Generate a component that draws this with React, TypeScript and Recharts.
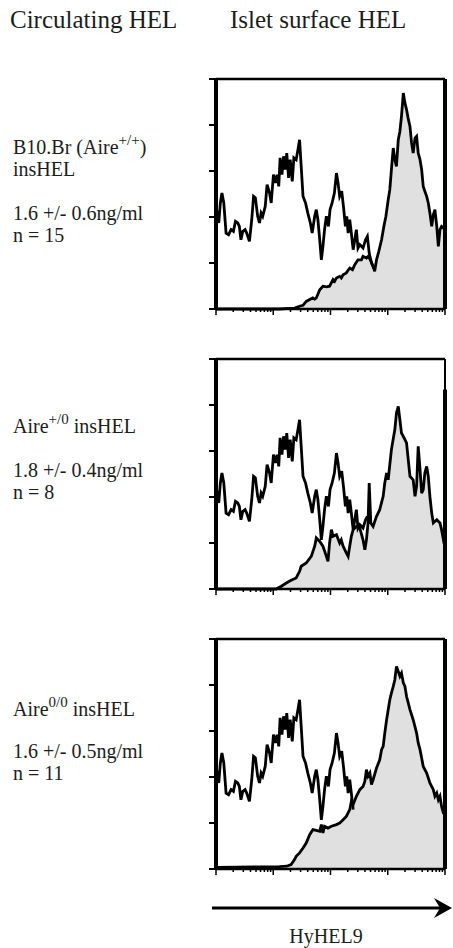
import React from 'react';
import { ComposedChart, Area, Line, XAxis, YAxis, ReferenceLine } from 'recharts';

// Control (open) histogram, x = channel (% of 4-decade log axis), y = % of max
const controlCurve: [number, number][] = [
  [0, 44.6], [1.2, 37.4], [1.9, 46.1], [2.6, 50.4], [3.4, 46.1], [4.4, 33.0], [5.5, 32.3], [6.6, 34.5],
  [7.6, 33.8], [8.5, 38.1], [9.5, 37.4], [10.2, 35.9], [10.9, 30.1], [11.7, 33.8], [12.7, 34.5], [13.4, 33.0],
  [14.6, 29.4], [15.6, 38.8], [16.4, 49.0], [17.2, 48.3], [18.2, 40.3], [19.0, 37.4], [19.7, 41.7], [20.4, 40.3],
  [21.5, 44.6], [22.3, 54.1], [23.4, 50.4], [24.1, 46.1], [25.1, 58.4], [26.0, 54.8], [26.7, 58.4], [27.4, 53.3],
  [28.0, 65.7], [28.8, 58.4], [29.5, 66.4], [30.2, 60.6], [30.9, 67.8], [31.7, 57.0], [32.4, 64.9], [33.3, 55.5],
  [34.0, 65.7], [35.0, 64.9], [35.8, 69.3], [36.5, 73.6], [37.2, 62.0], [38.0, 49.0], [39.1, 46.1], [40.1, 41.7],
  [41.2, 37.4], [42.0, 33.0], [43.1, 40.3], [43.8, 43.2], [44.5, 38.8], [45.3, 30.1], [46.0, 21.4], [46.7, 27.2],
  [47.4, 34.5], [48.2, 40.3], [49.1, 35.9], [49.8, 43.2], [50.7, 46.1], [51.7, 50.4], [52.6, 59.1], [53.3, 54.8],
  [54.0, 49.0], [54.9, 51.2], [55.8, 43.2], [56.5, 35.9], [57.1, 40.3], [57.7, 33.0], [58.4, 38.8], [59.1, 33.0],
  [59.9, 25.8], [60.6, 30.1], [61.3, 34.5], [62.0, 26.5], [62.8, 28.0], [64.2, 26.5], [65.3, 30.1], [66.1, 31.6],
  [66.9, 24.3], [67.9, 20.0], [68.9, 17.8],
];

// Islet surface HEL (filled) histograms
const stainedAireWT: [number, number][] = [
  [0, 0], [16.1, 0], [27.7, 0], [32.1, 0.3], [34.3, 0.4], [36.5, 1.2], [38.0, 1.6], [39.4, 3.3], [40.9, 4.1],
  [42.3, 4.8], [43.1, 4.3], [43.8, 4.8], [45.3, 8.4], [46.7, 9.9], [48.2, 9.6], [49.6, 9.9], [51.1, 12.8],
  [51.8, 12.0], [52.6, 13.5], [54.0, 14.2], [54.7, 13.5], [55.5, 14.9], [56.9, 15.7], [58.4, 17.8], [59.6, 17.1],
  [60.6, 19.3], [62.0, 21.4], [63.5, 21.4], [64.2, 22.9], [65.7, 22.2], [66.4, 22.9], [67.4, 21.4], [68.6, 18.6],
  [69.3, 16.4], [70.1, 21.4], [71.1, 25.1], [72.3, 30.1], [73.3, 35.9], [74.2, 40.3], [75.2, 47.5], [75.9, 51.9],
  [76.6, 60.6], [77.4, 70.0], [78.1, 64.9], [78.8, 62.0], [79.6, 73.6], [80.3, 77.2], [81.0, 83.8], [81.8, 93.9],
  [82.5, 89.6], [83.2, 86.7], [83.9, 83.0], [84.7, 79.4], [85.4, 72.2], [86.1, 67.8], [86.9, 74.3], [87.6, 75.1],
  [88.3, 67.8], [89.1, 64.9], [89.8, 60.6], [90.5, 53.3], [91.2, 51.2], [92.0, 49.0], [92.7, 46.1], [93.4, 41.7],
  [94.2, 35.9], [94.9, 41.0], [95.6, 43.2], [96.4, 35.9], [97.1, 27.2], [97.8, 34.5], [98.5, 35.9], [99.3, 35.2],
  [100, 35.9],
];

const stainedAireHet: [number, number][] = [
  [0, 0], [26.3, 0], [28.5, 1.2], [30.7, 2.6], [32.8, 3.8], [35.0, 4.8], [36.5, 7.7], [37.2, 9.9], [39.4, 11.3],
  [41.6, 14.2], [43.1, 18.6], [43.8, 22.2], [45.3, 20.7], [46.7, 18.6], [48.2, 14.2], [48.9, 12.0], [49.6, 20.0],
  [50.4, 25.8], [51.1, 22.9], [52.6, 23.6], [54.0, 20.0], [54.7, 21.4], [55.5, 18.6], [56.9, 15.7], [57.7, 14.2],
  [58.4, 18.6], [59.1, 22.9], [59.9, 25.8], [61.3, 27.2], [62.8, 26.5], [64.2, 21.4], [65.0, 17.1], [65.7, 21.4],
  [66.4, 28.7], [66.9, 46.1], [67.6, 28.7], [68.6, 27.2], [70.1, 31.6], [71.5, 34.5], [73.0, 40.3], [73.7, 46.1],
  [74.5, 50.4], [75.2, 47.5], [76.6, 60.6], [78.1, 69.3], [78.8, 76.5], [79.6, 79.4], [80.3, 73.6], [81.0, 67.8],
  [81.8, 66.4], [83.2, 63.5], [84.7, 49.0], [86.1, 47.5], [86.9, 40.3], [87.6, 44.6], [88.3, 62.0], [89.1, 51.9],
  [89.8, 41.7], [90.5, 43.2], [91.2, 50.4], [92.0, 53.3], [92.7, 49.0], [93.4, 40.3], [94.2, 33.0], [94.9, 28.7],
  [96.4, 30.1], [97.8, 28.7], [98.5, 25.8], [99.3, 21.4], [100, 22.9],
];

const stainedAireKO: [number, number][] = [
  [0, 0.7], [27.7, 1.0], [30.9, 1.2], [32.8, 1.9], [34.3, 4.1], [35.0, 5.5], [36.5, 7.0], [38.0, 9.1], [39.4, 11.3],
  [40.9, 14.9], [42.3, 17.1], [43.8, 16.8], [45.3, 16.4], [46.0, 19.3], [46.7, 15.7], [47.4, 18.6], [48.9, 17.8],
  [50.4, 18.6], [52.6, 19.3], [54.0, 20.0], [55.5, 21.4], [56.9, 22.9], [58.4, 25.8], [59.1, 29.4], [59.9, 28.0],
  [61.3, 31.6], [62.8, 34.5], [64.2, 35.9], [65.0, 38.1], [65.7, 43.2], [66.4, 40.3], [67.2, 41.7], [67.9, 36.7],
  [68.6, 38.8], [70.1, 43.9], [71.5, 47.5], [72.3, 51.9], [73.0, 53.3], [73.7, 59.1], [74.5, 64.9], [75.9, 73.6],
  [76.6, 76.5], [77.4, 79.4], [78.1, 82.3], [78.8, 88.1], [79.6, 85.9], [80.3, 83.8], [81.0, 85.2], [81.8, 80.9],
  [82.5, 79.4], [83.2, 75.1], [84.7, 69.3], [86.1, 64.9], [87.6, 59.1], [88.3, 54.8], [89.1, 51.9], [90.5, 44.6],
  [92.0, 41.7], [93.4, 37.4], [94.9, 34.5], [95.6, 31.6], [96.4, 33.0], [97.1, 30.1], [97.8, 31.6], [98.5, 27.2],
  [99.3, 24.3], [100, 23.6],
];

const stainedSeries = [stainedAireWT, stainedAireHet, stainedAireKO];
// where the open control curve meets the filled curve in each panel
const controlEnd = [68.9, 66.1, 59.9];
// height reached by the pile-up at the top channel
const edgeTop = [100, 86.7, 100];

const yTicks = [0, 20, 40, 60, 80, 100];
const xMajorTicks = [0, 25, 50, 75, 100];
const xMinorTicks: number[] = [];
for (let d = 0; d < 4; d++) {
  for (let m = 2; m <= 9; m++) xMinorTicks.push(+(25 * (d + Math.log10(m))).toFixed(3));
}
const xTicks = [...xMajorTicks, ...xMinorTicks].sort((a, b) => a - b);

const headers = ['Circulating HEL', 'Islet surface HEL'];
const strainNames = ['B10.Br (Aire', 'Aire', 'Aire'];
const strainSup = ['+/+', '+/0', '0/0'];
const concentrations = ['1.6 +/- 0.6ng/ml', '1.8 +/- 0.4ng/ml', '1.6 +/- 0.5ng/ml'];
const counts = ['n = 15', 'n = 8', 'n = 11'];
const axisLabel = 'HyHEL9';

const panelTops = [79, 359, 639];
const FILL = '#e0e0e0';
const INK = '#1c1c1c';
const FONT = '"Liberation Serif", "DejaVu Serif", serif';

const XTick = (props: any) => {
  const { x, y, payload } = props;
  const major = xMajorTicks.includes(payload.value);
  return <line x1={x} x2={x} y1={y} y2={y + (major ? 6 : 3)} stroke="#000" strokeWidth={1.5} />;
};

const YTick = (props: any) => {
  const { x, y } = props;
  return <line x1={x - 7} x2={x} y1={y} y2={y} stroke="#000" strokeWidth={2} />;
};

function Panel({ idx }: { idx: number }) {
  const filled = stainedSeries[idx].map(([x, y]) => ({ x, y }));
  const open = controlCurve.filter(([x]) => x <= controlEnd[idx]).map(([x, y]) => ({ x, y }));
  return (
    <div style={{ position: 'absolute', left: 200, top: panelTops[idx] - 10 }}>
      <ComposedChart width={253} height={250} margin={{ top: 10, right: 8, bottom: 0, left: 6 }}>
        <XAxis
          type="number"
          dataKey="x"
          domain={[0, 100]}
          ticks={xTicks}
          interval={0}
          tickLine={false}
          tickSize={0}
          tickMargin={0}
          tick={<XTick />}
          height={10}
          axisLine={{ stroke: '#000', strokeWidth: 2.5 }}
        />
        <YAxis
          type="number"
          domain={[0, 100]}
          ticks={yTicks}
          interval={0}
          tick={<YTick />}
          tickSize={0}
          tickMargin={0}
          tickLine={false}
          width={10}
          axisLine={{ stroke: '#000', strokeWidth: 4 }}
        />
        <Area
          data={filled}
          dataKey="y"
          type="linear"
          stroke="#000"
          strokeWidth={2.8}
          fill={FILL}
          fillOpacity={1}
          dot={false}
          activeDot={false}
          isAnimationActive={false}
        />
        <Line
          data={open}
          dataKey="y"
          type="linear"
          stroke="#000"
          strokeWidth={2.8}
          dot={false}
          activeDot={false}
          isAnimationActive={false}
        />
        <ReferenceLine y={100} stroke="#000" strokeWidth={2.5} />
        <ReferenceLine x={100} stroke="#000" strokeWidth={2} />
        <ReferenceLine segment={[{ x: 100, y: 0 }, { x: 100, y: edgeTop[idx] }]} stroke="#000" strokeWidth={4} />
      </ComposedChart>
    </div>
  );
}

const labelBaselines = [
  [154, 176, 220, 242],
  [433, null, 477, 499],
  [716, null, 758, 780],
];

export default function App() {
  return (
    <div style={{ position: 'absolute', left: 0, top: 0, width: 453, height: 948, background: '#fff', overflow: 'hidden' }}>
      <svg width={453} height={948} style={{ position: 'absolute', left: 0, top: 0 }} fontFamily={FONT} fill={INK}>
        <text x={10} y={28} fontSize={25}>{headers[0]}</text>
        <text x={230} y={28} fontSize={25}>{headers[1]}</text>
        {[0, 1, 2].map((i) => {
          const b = labelBaselines[i];
          return (
            <g key={i} fontSize={20}>
              {i === 0 ? (
                <>
                  <text x={13} y={b[0]!}>
                    <tspan>{strainNames[i]}</tspan>
                    <tspan fontSize={15} dy={-9}>{strainSup[i]}</tspan>
                    <tspan dy={9}>)</tspan>
                  </text>
                  <text x={13} y={b[1]!}>insHEL</text>
                </>
              ) : (
                <text x={13} y={b[0]!}>
                  <tspan>{strainNames[i]}</tspan>
                  <tspan fontSize={15} dy={-9}>{strainSup[i]}</tspan>
                  <tspan dy={9}> insHEL</tspan>
                </text>
              )}
              <text x={13} y={b[2]!}>{concentrations[i]}</text>
              <text x={13} y={b[3]!}>{counts[i]}</text>
            </g>
          );
        })}
        <line x1={212} x2={442} y1={908} y2={908} stroke="#000" strokeWidth={3} />
        <polygon points="452,908 434,898 440,908 434,918" fill="#000" />
        <text x={326} y={943} fontSize={20} textAnchor="middle">{axisLabel}</text>
      </svg>
      {[0, 1, 2].map((i) => (
        <Panel key={i} idx={i} />
      ))}
    </div>
  );
}
